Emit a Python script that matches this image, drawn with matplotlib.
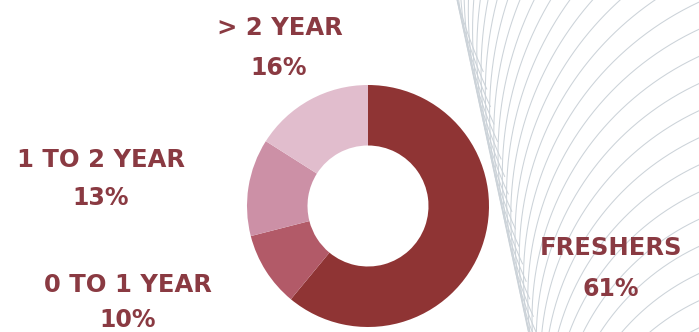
import numpy as np
import matplotlib
matplotlib.use("Agg")
import matplotlib.pyplot as plt

# ---- data ----
categories = ["FRESHERS", "0 TO 1 YEAR", "1 TO 2 YEAR", "> 2 YEAR"]
values = [61, 10, 13, 16]
pct_labels = ["61%", "10%", "13%", "16%"]
colors = ["#8f3434", "#b25a68", "#cc90a6", "#e1bdcd"]

W, H = 699, 332
fig = plt.figure(figsize=(W / 100, H / 100), dpi=100)
fig.patch.set_facecolor("white")

# background axes in pixel coordinates (y downwards)
bg = fig.add_axes([0, 0, 1, 1])
bg.set_xlim(0, W)
bg.set_ylim(H, 0)
bg.axis("off")

# decorative fan of thin arcs, all tangent to a slanted envelope line
line_col = "#ccd3d9"
slope = 0.215
a0 = np.arctan2(1.0, -slope)          # tangent direction (math coords, going up)
for k in range(34):
    y0 = -20 + k * 19.0
    x0 = 457 + slope * y0
    r = 434 - 0.383 * y0
    Px, Py = x0, -y0
    Cx, Cy = Px + r * np.sin(a0), Py - r * np.cos(a0)
    al = np.linspace(a0 + 0.22, np.radians(12), 500)
    X = Cx - r * np.sin(al)
    Y = Cy + r * np.cos(al)
    bg.plot(X, -Y, color=line_col, lw=0.75, zorder=0, solid_capstyle="butt")

# donut
cx, cy, R = 368, 206, 121
pie_ax = fig.add_axes([(cx - R) / W, (H - cy - R) / H, 2 * R / W, 2 * R / H])
pie_ax.pie(values, colors=colors, startangle=90, counterclock=False,
           wedgeprops=dict(width=0.5, linewidth=0))
pie_ax.set_xlim(-1, 1)
pie_ax.set_ylim(-1, 1)
pie_ax.set_aspect("equal")
pie_ax.axis("off")

# labels
txt_col = "#8a3a42"
font = dict(family="DejaVu Sans", weight="heavy", color=txt_col, ha="center", va="center")
label_pos = {
    "FRESHERS": ((611, 248), (611, 289)),
    "0 TO 1 YEAR": ((128, 285), (128, 320)),
    "1 TO 2 YEAR": ((101, 160), (101, 198)),
    "> 2 YEAR": ((280, 28), (279, 68)),
}
for cat, pct in zip(categories, pct_labels):
    (x1, y1), (x2, y2) = label_pos[cat]
    bg.text(x1, y1, cat, fontsize=17.5, **font)
    bg.text(x2, y2, pct, fontsize=17, **font)

fig.savefig("out.png", dpi=100, facecolor="white")
